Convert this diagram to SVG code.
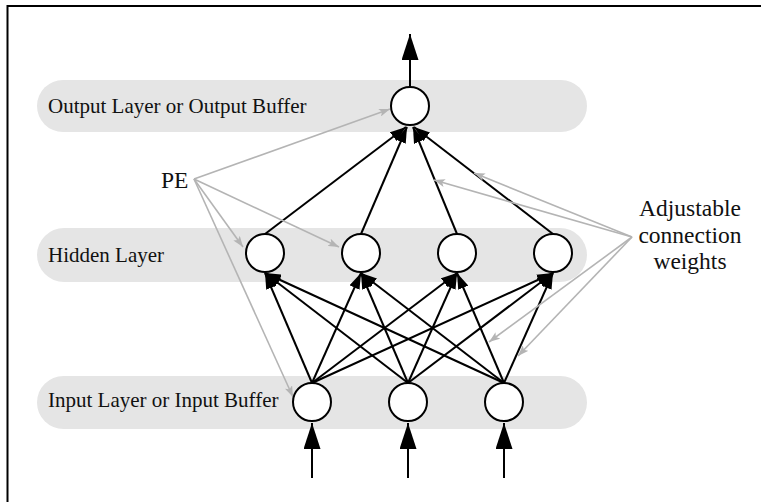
<svg xmlns="http://www.w3.org/2000/svg" width="761" height="502" viewBox="0 0 761 502">
<style>
.band{fill:#e5e5e5}
.lbl{font-family:"Liberation Serif","Times New Roman",serif;font-size:21px;fill:#111}
.big{font-family:"Liberation Serif","Times New Roman",serif;font-size:23.5px;fill:#111}
.node{fill:#fff;stroke:#000;stroke-width:2}
.e{stroke:#000;stroke-width:2;fill:none;marker-end:url(#ah)}
.io{stroke:#000;stroke-width:2;fill:none;marker-end:url(#ahBig)}
.g{stroke:#b4b4b4;stroke-width:1.6;fill:none;marker-end:url(#ahGray)}
</style>
<defs>
<marker id="ah" markerUnits="userSpaceOnUse" viewBox="0 0 16 11" refX="16" refY="5.5" markerWidth="16" markerHeight="11" orient="auto"><path d="M0,0 L16,5.5 L0,11 z" fill="#000"/></marker>
<marker id="ahBig" markerUnits="userSpaceOnUse" viewBox="0 0 26 17" refX="26" refY="8.5" markerWidth="26" markerHeight="17" orient="auto"><path d="M0,0 L26,8.5 L0,17 z" fill="#000"/></marker>
<marker id="ahGray" markerUnits="userSpaceOnUse" viewBox="0 0 11 8" refX="11" refY="4" markerWidth="11" markerHeight="8" orient="auto"><path d="M0,0 L11,4 L0,8 L2.5,4 z" fill="#b4b4b4"/></marker>
</defs>
<rect x="7.5" y="6" width="800" height="600" fill="#fff" stroke="#000" stroke-width="2"/>
<g id="bands">
<g id="band-output"><rect class="band" x="37" y="80" width="550" height="52" rx="26"/><text class="lbl" x="48" y="113">Output Layer or Output Buffer</text></g>
<g id="band-hidden"><rect class="band" x="37" y="228" width="550" height="54" rx="27"/><text class="lbl" x="48" y="262">Hidden Layer</text></g>
<g id="band-input"><rect class="band" x="37" y="376" width="550" height="53" rx="26.5"/><text class="lbl" x="48" y="407">Input Layer or Input Buffer</text></g>
</g>
<g id="connectors">
<line class="io" x1="410" y1="87" x2="410" y2="34"/>
<line class="io" x1="312" y1="478" x2="312" y2="423"/>
<line class="io" x1="408" y1="478" x2="408" y2="423"/>
<line class="io" x1="504" y1="478" x2="504" y2="423"/>
<line class="e" x1="265" y1="234" x2="406" y2="127"/>
<line class="e" x1="361" y1="234" x2="407" y2="127"/>
<line class="e" x1="457" y1="234" x2="413" y2="127"/>
<line class="e" x1="553" y1="234" x2="414" y2="127"/>
<line class="e" x1="312" y1="383" x2="265" y2="273"/>
<line class="e" x1="312" y1="383" x2="361" y2="273"/>
<line class="e" x1="312" y1="383" x2="457" y2="273"/>
<line class="e" x1="312" y1="383" x2="553" y2="273"/>
<line class="e" x1="408" y1="383" x2="265" y2="273"/>
<line class="e" x1="408" y1="383" x2="361" y2="273"/>
<line class="e" x1="408" y1="383" x2="457" y2="273"/>
<line class="e" x1="408" y1="383" x2="553" y2="273"/>
<line class="e" x1="504" y1="383" x2="265" y2="273"/>
<line class="e" x1="504" y1="383" x2="361" y2="273"/>
<line class="e" x1="504" y1="383" x2="457" y2="273"/>
<line class="e" x1="504" y1="383" x2="553" y2="273"/>
<line class="g" x1="194" y1="179" x2="390" y2="109"/>
<line class="g" x1="194" y1="179" x2="243" y2="247"/>
<line class="g" x1="194" y1="179" x2="339" y2="247"/>
<line class="g" x1="194" y1="179" x2="293" y2="397"/>
<line class="g" x1="632" y1="237" x2="474" y2="173"/>
<line class="g" x1="632" y1="237" x2="434" y2="180"/>
<line class="g" x1="632" y1="237" x2="489" y2="342"/>
<line class="g" x1="632" y1="237" x2="518" y2="356"/>
</g>
<g id="out1"><circle class="node" cx="410" cy="106" r="19"/></g>
<g id="h1"><circle class="node" cx="265" cy="253" r="19"/></g>
<g id="h2"><circle class="node" cx="361" cy="253" r="19"/></g>
<g id="h3"><circle class="node" cx="457" cy="253" r="19"/></g>
<g id="h4"><circle class="node" cx="553" cy="253" r="19"/></g>
<g id="in1"><circle class="node" cx="312" cy="402" r="19"/></g>
<g id="in2"><circle class="node" cx="408" cy="402" r="19"/></g>
<g id="in3"><circle class="node" cx="504" cy="402" r="19"/></g>
<g id="pe-label"><text class="big" x="161" y="188">PE</text></g>
<g id="weights-label">
<text class="big" x="690" y="216" text-anchor="middle">Adjustable</text>
<text class="big" x="690" y="243" text-anchor="middle">connection</text>
<text class="big" x="690" y="269" text-anchor="middle">weights</text>
</g>
</svg>
